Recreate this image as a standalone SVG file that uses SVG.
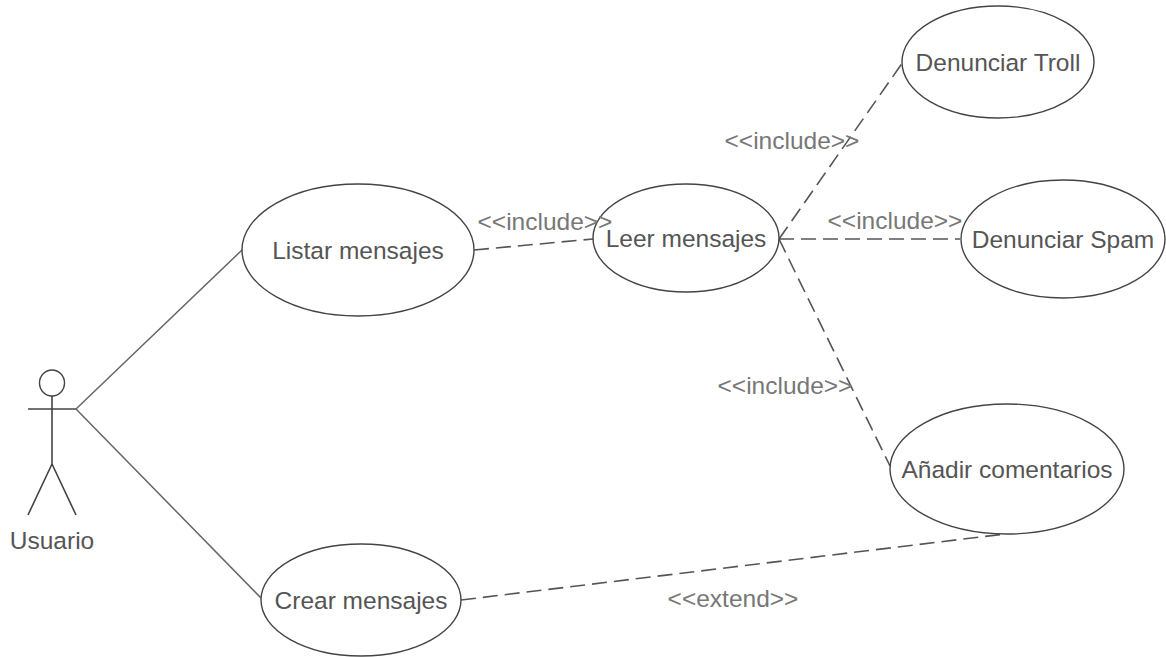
<svg xmlns="http://www.w3.org/2000/svg" width="1166" height="657" viewBox="0 0 1166 657">
<style>
.n{fill:#fff;stroke:#444;stroke-width:1.4}
.s{fill:none;stroke:#666;stroke-width:1.5}
.a{fill:none;stroke:#444;stroke-width:1.6}
.d{fill:none;stroke:#555;stroke-width:1.6;stroke-dasharray:15 7}
text{font-family:"Liberation Sans",Arial,sans-serif;font-size:24.5px;fill:#555;text-anchor:middle}
.l{fill:#777}
</style>
<rect width="1166" height="657" fill="#fff"/>
<g id="connectors">
<path class="s" d="M76 409L242 250M76 409L261 598"/>
<path class="d" d="M474 250L593 239M779 239L903 62M779 239H960M779 239L890 466M461 600L1005 534"/>
</g>
<g id="actor"><ellipse class="n" cx="52" cy="383" rx="12.5" ry="13"/><path class="a" d="M52 396V464M28 409H76M52 464L28 515M52 464L76 515"/><text x="52" y="549">Usuario</text></g>
<g id="listar"><ellipse class="n" cx="358" cy="250" rx="116" ry="66"/><text x="358" y="259">Listar mensajes</text></g>
<g id="crear"><ellipse class="n" cx="361" cy="600" rx="100" ry="56"/><text x="361" y="609">Crear mensajes</text></g>
<g id="leer"><ellipse class="n" cx="686" cy="238" rx="93" ry="54"/><text x="686" y="247">Leer mensajes</text></g>
<g id="troll"><ellipse class="n" cx="998" cy="62" rx="96" ry="56"/><text x="998" y="71">Denunciar Troll</text></g>
<g id="spam"><ellipse class="n" cx="1063" cy="239" rx="102" ry="59"/><text x="1063" y="248">Denunciar Spam</text></g>
<g id="anadir"><ellipse class="n" cx="1007" cy="469" rx="117" ry="65"/><text x="1007" y="478">Añadir comentarios</text></g>
<g id="labels">
<text class="l" x="545" y="230">&lt;&lt;include&gt;&gt;</text>
<text class="l" x="792" y="149">&lt;&lt;include&gt;&gt;</text>
<text class="l" x="895" y="229">&lt;&lt;include&gt;&gt;</text>
<text class="l" x="785" y="394">&lt;&lt;include&gt;&gt;</text>
<text class="l" x="733" y="607">&lt;&lt;extend&gt;&gt;</text>
</g>
</svg>
